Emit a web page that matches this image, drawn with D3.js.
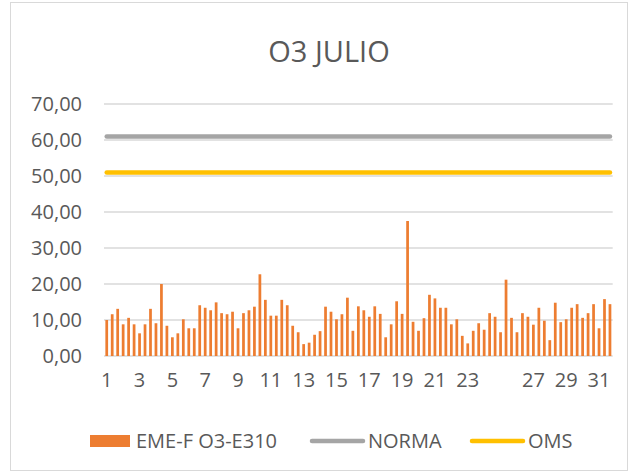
<!DOCTYPE html>
<html>
<head>
<meta charset="utf-8">
<script src="https://cdn.jsdelivr.net/npm/d3@7/dist/d3.min.js"></script>
<style>
  html, body { margin: 0; padding: 0; background: #ffffff; }
  svg { display: block; }
  text { font-family: "Open Sans", sans-serif; fill: #595959; }
</style>
</head>
<body>
<svg id="chart" width="638" height="476"></svg>
<script>
// ---------- data ----------
const title = "O3 JULIO";
const readingsPerDay = 3;
const dayCount = 31;
// EME-F O3-E310 readings (3 per day, 93 values)
const o3Values = [
  10.0, 11.6, 13.1,   8.8, 10.6, 8.8,   6.3, 8.8, 13.1,   9.1, 20.0, 8.4,
  5.2, 6.3, 10.2,     7.7, 7.7, 14.1,   13.4, 12.7, 14.9, 11.9, 11.6, 12.3,
  7.7, 11.9, 12.7,    13.7, 22.7, 15.6, 11.2, 11.2, 15.6, 14.1, 8.4, 6.6,
  3.3, 3.7, 5.9,      6.9, 13.7, 12.3,  10.2, 11.6, 16.2, 7.0, 13.8, 12.7,
  10.9, 13.8, 11.7,   5.2, 8.8, 15.2,   11.7, 37.5, 9.5,  7.0, 10.5, 17.0,
  16.0, 13.4, 13.4,   8.8, 10.2, 5.6,   3.5, 7.0, 9.1,    7.3, 11.9, 10.9,
  6.6, 21.2, 10.6,    6.6, 11.9, 10.9,  8.7, 13.4, 9.8,   4.4, 14.8, 9.4,
  10.2, 13.4, 14.4,   10.6, 11.9, 14.4, 7.7, 15.8, 14.4
];
const normaValue = 61;
const omsValue = 51;
const dayLabels = ["1","3","5","7","9","11","13","15","17","19","21","23","27","29","31"];
const yTicks = [0, 10, 20, 30, 40, 50, 60, 70];
const seriesNames = ["EME-F O3-E310", "NORMA", "OMS"];
const colors = { bars: "#ed7d31", norma: "#a5a5a5", oms: "#ffc000" };

// ---------- layout ----------
const svg = d3.select("#chart");
const W = 638, H = 476;
const plot = { left: 104, right: 612.7, top: 104, bottom: 356 };

// border
svg.append("rect")
  .attr("x", 10.5).attr("y", 2.5).attr("width", 617).attr("height", 468)
  .attr("fill", "#ffffff").attr("stroke", "#d9d9d9").attr("stroke-width", 1);

const idx = d3.range(o3Values.length);
const x = d3.scaleBand().domain(idx).range([plot.left, plot.right]).paddingInner(0.5).paddingOuter(0.25);
const y = d3.scaleLinear().domain([0, 70]).range([plot.bottom, plot.top]);

// gridlines
svg.append("g").selectAll("line").data(yTicks).join("line")
  .attr("x1", plot.left).attr("x2", plot.right)
  .attr("y1", d => y(d)).attr("y2", d => y(d))
  .attr("stroke", "#d9d9d9").attr("stroke-width", 1.5);

// y axis labels
const fmt = d => d3.format(".2f")(d).replace(".", ",");
const yAxis = d3.axisLeft(y).tickValues(yTicks).tickFormat(fmt).tickSize(0).tickPadding(0);
const gy = svg.append("g").attr("transform", `translate(82,0)`).call(yAxis);
gy.select(".domain").remove();
gy.selectAll("text").style("font-size", "20px").attr("fill", "#595959")
  .style("font-family", "'Open Sans', sans-serif");

// bars
svg.append("g").selectAll("rect").data(o3Values).join("rect")
  .attr("x", (d, i) => x(i))
  .attr("width", x.bandwidth())
  .attr("y", d => y(d))
  .attr("height", d => y(0) - y(d))
  .attr("fill", colors.bars);

// x axis labels
const labelIndex = d => (+d - 1) * readingsPerDay;
const xAxis = d3.axisBottom(x)
  .tickValues(dayLabels.map(labelIndex))
  .tickFormat(i => String(i / readingsPerDay + 1))
  .tickSize(0).tickPadding(0);
const gx = svg.append("g").attr("transform", `translate(0,373)`).call(xAxis);
gx.select(".domain").remove();
gx.selectAll("text").style("font-size", "20px").attr("fill", "#595959")
  .style("font-family", "'Open Sans', sans-serif").attr("dy", "0.71em");

// horizontal reference lines (NORMA, OMS)
const lineGen = d3.line().x(i => x(i) + x.bandwidth() / 2);
function refLine(value, color) {
  const pts = [0, o3Values.length - 1];
  svg.append("path")
    .attr("d", lineGen.y(() => y(value))(pts))
    .attr("fill", "none").attr("stroke", color)
    .attr("stroke-width", 4.5).attr("stroke-linecap", "round");
}
refLine(normaValue, colors.norma);
refLine(omsValue, colors.oms);

// title
svg.append("text").attr("x", 329).attr("y", 62).attr("text-anchor", "middle")
  .style("font-size", "29px").text(title);

// legend
const lg = svg.append("g");
lg.append("rect").attr("x", 90).attr("y", 435).attr("width", 40).attr("height", 12).attr("fill", colors.bars);
lg.append("text").attr("x", 136).attr("y", 448).style("font-size", "20px").text(seriesNames[0]);
lg.append("line").attr("x1", 312).attr("x2", 363).attr("y1", 441).attr("y2", 441)
  .attr("stroke", colors.norma).attr("stroke-width", 4.5).attr("stroke-linecap", "round");
lg.append("text").attr("x", 368).attr("y", 448).style("font-size", "20px").text(seriesNames[1]);
lg.append("line").attr("x1", 472).attr("x2", 523).attr("y1", 441).attr("y2", 441)
  .attr("stroke", colors.oms).attr("stroke-width", 4.5).attr("stroke-linecap", "round");
lg.append("text").attr("x", 528).attr("y", 448).style("font-size", "20px").text(seriesNames[2]);
</script>
</body>
</html>
